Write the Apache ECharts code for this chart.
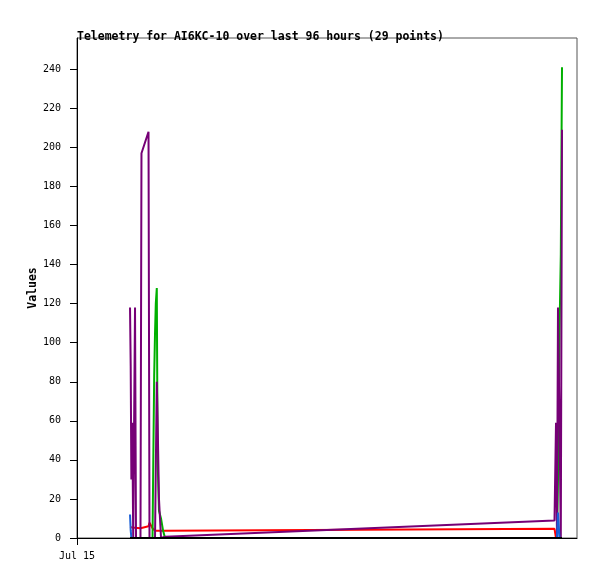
<!DOCTYPE html>
<html>
<head>
<meta charset="utf-8">
<script src="https://cdn.jsdelivr.net/npm/echarts@6/dist/echarts.min.js"></script>
<style>
html,body{margin:0;padding:0;background:#fff;}
#chart{width:597px;height:579px;}
</style>
</head>
<body>
<div id="chart"></div>
<script>
// Hours since Jul 15 00:00 for each telemetry packet (29 points)
var times = [10.18, 10.31, 10.44, 10.62, 10.79, 11.14, 11.33, 12.19, 12.38, 13.73, 13.92, 14.50, 14.65, 14.82, 14.98, 15.13, 15.32, 15.48, 15.74, 16.13, 16.51, 16.90, 91.68, 91.97, 92.16, 92.35, 92.64, 92.89, 93.12];
var redValues    = [5.6, 5.6, 5.5, 5.4, 5.3, 5.2, 5.2, 5.0, 5.0, 6.0, 7.8, 5.0, 4.5, 4.0, 3.7, 3.7, 3.7, 3.7, 3.7, 3.7, 3.7, 3.7, 4.7, 0, 0, 0, 0, 0, 0];
var greenValues  = [0, 0, 0, 0, 0, 0, 0, 0, 0, 0, 0, 0, 40, 83, 105, 120, 128, 40, 14, 10, 4, 0, 0, 0, 0, 30, 105, 145, 241];
var purpleValues = [118, 88, 30, 59, 0, 118, 0, 0, 197, 208, 0, 0, 0, 0, 0, 0, 80, 60, 20, 0, 0, 0.6, 9, 59, 0, 118, 59, 0, 209];
var blueValues   = [12, 4, 0, 0, 0, 0, 0, 0, 0, 0, 0, 0, 0, 0, 0, 0, 0, 0, 0, 0, 0, 0, 0, 0, 0, 13, 0, 0, 0];
var blackValues  = [0, 0, 0, 0, 0, 0, 0, 0, 0, 0, 0, 0, 0, 0, 0, 0, 0, 0, 0, 0, 0, 0, 0, 0, 0, 0, 0, 0, 0];
var yTicks = [0, 20, 40, 60, 80, 100, 120, 140, 160, 180, 200, 220, 240];
var xTicks = [0];
var xTickLabels = ['Jul 15'];

function pairs(vals) {
  return times.map(function (t, i) { return [t, vals[i]]; });
}
function lineSeries(name, vals, color, z) {
  return {
    name: name, type: 'line', data: pairs(vals), showSymbol: false,
    lineStyle: { width: 2, color: color }, itemStyle: { color: color },
    z: z, animation: false, silent: true
  };
}

var chart = echarts.init(document.getElementById('chart'), null, { renderer: 'canvas' });
chart.setOption({
  backgroundColor: '#ffffff',
  animation: false,
  title: {
    text: 'Telemetry for AI6KC-10 over last 96 hours (29 points)',
    left: 72, top: 26,
    textStyle: { fontFamily: 'DejaVu Sans Mono', fontWeight: 'bold', fontSize: 11.5, color: '#000' }
  },
  grid: { left: 77, right: 20, top: 38, bottom: 41, show: true, borderColor: '#555', borderWidth: 1, backgroundColor: 'transparent' },
  xAxis: {
    type: 'value', min: 0, max: 96,
    axisLine: { show: true, lineStyle: { color: '#000', width: 1 } },
    axisTick: { show: true, length: 7, customValues: xTicks, lineStyle: { color: '#000' } },
    axisLabel: {
      customValues: xTicks, margin: 13,
      formatter: function (v) { var i = xTicks.indexOf(v); return i >= 0 ? xTickLabels[i] : ''; },
      fontFamily: 'DejaVu Sans Mono', fontSize: 10, color: '#000'
    },
    splitLine: { show: false }
  },
  yAxis: {
    type: 'value', min: 0, max: 256, interval: 20,
    name: 'Values', nameLocation: 'middle', nameGap: 38, nameMoveOverlap: false,
    nameTextStyle: { fontFamily: 'DejaVu Sans Mono', fontWeight: 'bold', fontSize: 11.5, color: '#000' },
    axisLine: { show: true, lineStyle: { color: '#000', width: 1 } },
    axisTick: { show: true, length: 7, customValues: yTicks, lineStyle: { color: '#000' } },
    axisLabel: { customValues: yTicks, margin: 16, fontFamily: 'DejaVu Sans Mono', fontSize: 10, color: '#000' },
    splitLine: { show: false }
  },
  series: [
    lineSeries('red', redValues, '#ff0000', 2),
    lineSeries('green', greenValues, '#00b000', 3),
    lineSeries('purple', purpleValues, '#760076', 4),
    lineSeries('blue', blueValues, '#1a5fd6', 5),
    lineSeries('black', blackValues, '#000000', 6)
  ]
});
</script>
</body>
</html>
